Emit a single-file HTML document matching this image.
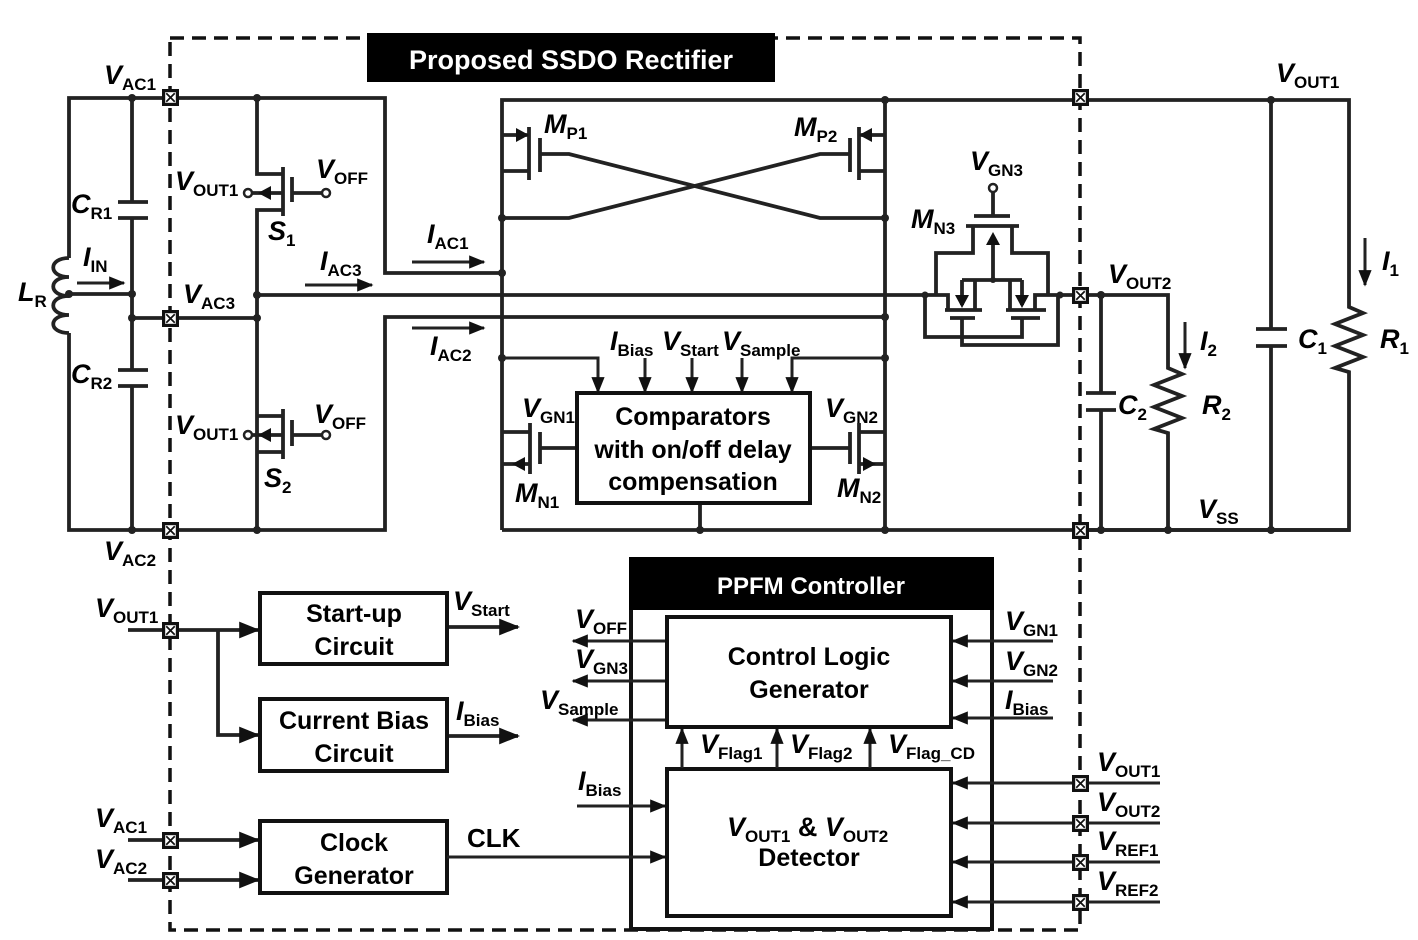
<!DOCTYPE html>
<html><head><meta charset="utf-8"><style>
html,body{margin:0;padding:0;background:#fff}
svg{display:block}
text{font-family:"Liberation Sans",Arial,sans-serif;font-weight:bold;fill:#000}
.l{font-size:27px;font-style:italic}
.s{font-size:17px;font-style:normal}
.b{font-size:25px;text-anchor:middle}
.w{stroke:#222;stroke-width:3.8;fill:none}
.t{stroke:#222;stroke-width:3;fill:none}
</style></head><body>
<svg width="1418" height="940" viewBox="0 0 1418 940" xmlns="http://www.w3.org/2000/svg">
<defs>
<marker id="a" viewBox="0 0 10 10" refX="9" refY="5" markerWidth="5.5" markerHeight="5.5" orient="auto" markerUnits="strokeWidth"><path d="M0,1 L10,5 L0,9 z" fill="#111"/></marker>
<symbol id="tm" viewBox="0 0 16 16"><rect x="0" y="0" width="16" height="16" fill="#111"/><rect x="3" y="3" width="10" height="10" fill="#fff"/><path d="M4,4 L12,12 M12,4 L4,12" stroke="#111" stroke-width="1.6"/></symbol>
</defs>

<rect x="170" y="38" width="910" height="892" fill="none" stroke="#111" stroke-width="3.5" stroke-dasharray="14,8"/>
<rect x="367" y="33" width="408" height="49" fill="#000"/>
<text x="571" y="69" font-size="27" style="fill:#fff" text-anchor="middle">Proposed SSDO Rectifier</text>

<g class="w">
<path d="M69,258 V98 H385 V273 H502"/>
<path d="M69,333 V530 H385 V317 H885"/>
<path d="M69,258 c-21,0 -21,19 0,19 c-21,0 -21,19 0,19 c-21,0 -21,19 0,19 c-21,0 -21,18 0,18"/>
<path d="M69,294 H132"/>
<path d="M132,98 V202 M118,202 H148 M118,218 H148 M132,218 V370 M118,370 H148 M118,386 H148 M132,386 V530"/>
<path d="M132,318 H257"/>
<path d="M257,98 V174 H283 M283,167 V216 M292,177 V202 M283,210 H257 V452 M257,416 H283 M283,409 V459 M292,420 V446 M283,452 H257 V530"/>
<path d="M292,193 H323 M292,435 H323"/>
<path d="M283,193 H251 M283,435 H251"/>
<path d="M257,295 H925"/>
</g>
<polygon points="258,193 271,186 271,200" fill="#111"/>
<polygon points="258,435 271,428 271,442" fill="#111"/>
<g fill="#fff" stroke="#222" stroke-width="2.5"><circle cx="248" cy="193" r="4"/><circle cx="326" cy="193" r="4"/><circle cx="248" cy="435" r="4"/><circle cx="326" cy="435" r="4"/></g>
<g fill="#222"><circle cx="132" cy="98" r="4"/><circle cx="132" cy="294" r="4"/><circle cx="132" cy="318" r="4"/><circle cx="132" cy="530" r="4"/><circle cx="257" cy="98" r="4"/><circle cx="257" cy="295" r="4"/><circle cx="257" cy="318" r="4"/><circle cx="257" cy="530" r="4"/><circle cx="69" cy="294" r="4"/></g>
<g class="t" marker-end="url(#a)"><path d="M77,283 H124"/><path d="M305,285 H372"/><path d="M412,262 H484"/><path d="M412,328 H484"/></g>

<g class="w">
<path d="M502,530 V100 H1080 M885,100 V530 M502,530 H1350"/>
<path d="M502,135 H529 M529,127 V180 M540,138 V172 M529,171 H502"/>
<path d="M885,135 H859 M859,127 V180 M850,138 V172 M859,171 H885"/>
<path d="M540,154 H569 L820,218 H885 M502,218 H569 L820,154 H850"/>
<path d="M502,432 H530 M530,423 V474 M540,432 V464 M540,448 H577 M530,464 H502"/>
<path d="M885,432 H859 M859,423 V474 M850,432 V464 M850,448 H810 M859,464 H885"/>
<path d="M700,503 V530"/>
</g>
<polygon points="529,135 516,128 516,142" fill="#111"/>
<polygon points="859,135 872,128 872,142" fill="#111"/>
<polygon points="512,464 525,457 525,471" fill="#111"/>
<polygon points="876,464 863,457 863,471" fill="#111"/>
<rect x="577" y="393" width="233" height="110" fill="#fff" stroke="#111" stroke-width="4"/>
<text class="b" x="693" y="425" font-size="24">Comparators</text>
<text class="b" x="693" y="458" font-size="24">with on/off delay</text>
<text class="b" x="693" y="490" font-size="24">compensation</text>
<g class="t" marker-end="url(#a)">
<path d="M502,358 H598 V392"/><path d="M885,358 H792 V392"/>
<path d="M645,358 V392"/><path d="M692,358 V392"/><path d="M742,358 V392"/>
</g>
<g fill="#222"><circle cx="502" cy="218" r="4"/><circle cx="885" cy="218" r="4"/><circle cx="502" cy="273" r="4"/><circle cx="502" cy="358" r="4"/><circle cx="885" cy="358" r="4"/><circle cx="885" cy="317" r="4"/><circle cx="700" cy="530" r="4"/><circle cx="885" cy="530" r="4"/><circle cx="885" cy="100" r="4"/></g>

<g class="w">
<path d="M993,191 V216 M974,216 H1010 M966,226 H1019"/>
<path d="M973,226 V253 H936 V295 M1012,226 V253 H1048 V295"/>
<path d="M993,280 V240 M962,280 H1022"/>
<path d="M962,280 V305 M975,280 V310 M1022,280 V305 M1010,280 V310"/>
<path d="M945,310 H982 M950,318 H975 M1006,310 H1046 M1011,318 H1040"/>
<path d="M925,295 H948 V310 M1060,295 H1035 V310 M925,295 V337 H1022 V318 M962,318 V345 H1058 V295 M1048,295 H1080"/>
</g>
<polygon points="993,232 986,245 1000,245" fill="#111"/>
<polygon points="962,308 955,295 969,295" fill="#111"/>
<polygon points="1022,308 1015,295 1029,295" fill="#111"/>
<circle cx="993" cy="188" r="4" fill="#fff" stroke="#222" stroke-width="2.5"/>
<g fill="#222"><circle cx="925" cy="295" r="3.5"/><circle cx="1060" cy="295" r="3.5"/><circle cx="993" cy="280" r="3"/></g>

<g class="w">
<path d="M1080,100 H1349 V307 l14,6 -28,11 28,11 -28,11 28,11 -28,11 14,4 V530 H1080"/>
<path d="M1271,100 V329 M1256,329 H1287 M1256,346 H1287 M1271,346 V530"/>
<path d="M1080,295 H1168 V368 l14,6 -28,11 28,11 -28,11 28,11 -28,11 14,4 V530"/>
<path d="M1101,295 V393 M1086,393 H1116 M1086,410 H1116 M1101,410 V530"/>
</g>
<g class="t" marker-end="url(#a)"><path d="M1365,238 V285"/><path d="M1185,322 V368"/></g>
<g fill="#222"><circle cx="1271" cy="100" r="4"/><circle cx="1101" cy="295" r="4"/><circle cx="1101" cy="530" r="4"/><circle cx="1168" cy="530" r="4"/><circle cx="1271" cy="530" r="4"/></g>

<g class="w">
<path d="M128,630 H258" marker-end="url(#a)"/>
<path d="M218,630 V735 H258" marker-end="url(#a)"/>
<path d="M128,840 H258" marker-end="url(#a)"/>
<path d="M128,880 H258" marker-end="url(#a)"/>
<path d="M447,627 H518" marker-end="url(#a)"/>
<path d="M447,736 H518" marker-end="url(#a)"/>
</g>
<g fill="#fff" stroke="#111" stroke-width="4">
<rect x="260" y="593" width="187" height="71"/><rect x="260" y="699" width="187" height="72"/><rect x="260" y="821" width="187" height="72"/>
</g>
<text class="b" x="354" y="622">Start-up</text><text class="b" x="354" y="655">Circuit</text>
<text class="b" x="354" y="729">Current Bias</text><text class="b" x="354" y="762">Circuit</text>
<text class="b" x="354" y="851">Clock</text><text class="b" x="354" y="884">Generator</text>
<text x="467" y="847" font-size="26">CLK</text>

<rect x="631" y="559" width="361" height="370" fill="#fff" stroke="#111" stroke-width="4"/>
<rect x="629" y="557" width="365" height="53" fill="#000"/>
<text x="811" y="594" font-size="24" style="fill:#fff" text-anchor="middle">PPFM Controller</text>
<rect x="667" y="617" width="284" height="110" fill="#fff" stroke="#111" stroke-width="4"/>
<rect x="667" y="769" width="284" height="147" fill="#fff" stroke="#111" stroke-width="4"/>
<text class="b" x="809" y="665">Control Logic</text><text class="b" x="809" y="698">Generator</text>
<text class="b" x="809" y="866">Detector</text>
<text class="l" x="727" y="836">V<tspan class="s" dy="6">OUT1</tspan><tspan dy="-6" style="font-style:normal"> &amp; </tspan>V<tspan class="s" dy="6">OUT2</tspan></text>
<g class="t" marker-end="url(#a)">
<path d="M447,857 H665"/>
<path d="M665,641 H573"/><path d="M665,681 H573"/><path d="M665,720 H573"/>
<path d="M1053,641 H953"/><path d="M1053,681 H953"/><path d="M1053,718 H953"/>
<path d="M682,768 V729"/><path d="M777,768 V729"/><path d="M870,768 V729"/>
<path d="M577,806 H665"/>
<path d="M1160,783 H953"/><path d="M1160,823 H953"/><path d="M1160,862 H953"/><path d="M1160,902 H953"/>
</g>

<g>
<use href="#tm" x="162" y="89" width="17" height="17"/>
<use href="#tm" x="162" y="310" width="17" height="17"/>
<use href="#tm" x="162" y="522" width="17" height="17"/>
<use href="#tm" x="1072" y="89" width="17" height="17"/>
<use href="#tm" x="1072" y="287" width="17" height="17"/>
<use href="#tm" x="1072" y="522" width="17" height="17"/>
<use href="#tm" x="162" y="622" width="17" height="17"/>
<use href="#tm" x="162" y="832" width="17" height="17"/>
<use href="#tm" x="162" y="872" width="17" height="17"/>
<use href="#tm" x="1072" y="775" width="17" height="17"/>
<use href="#tm" x="1072" y="815" width="17" height="17"/>
<use href="#tm" x="1072" y="854" width="17" height="17"/>
<use href="#tm" x="1072" y="894" width="17" height="17"/>
</g>

<g>
<text class="l" x="104" y="84">V<tspan class="s" dy="6">AC1</tspan></text>
<text class="l" x="104" y="560">V<tspan class="s" dy="6">AC2</tspan></text>
<text class="l" x="183" y="303">V<tspan class="s" dy="6">AC3</tspan></text>
<text class="l" x="71" y="213">C<tspan class="s" dy="6">R1</tspan></text>
<text class="l" x="71" y="383">C<tspan class="s" dy="6">R2</tspan></text>
<text class="l" x="18" y="301">L<tspan class="s" dy="6">R</tspan></text>
<text class="l" x="83" y="266">I<tspan class="s" dy="6">IN</tspan></text>
<text class="l" x="175" y="190">V<tspan class="s" dy="6">OUT1</tspan></text>
<text class="l" x="316" y="178">V<tspan class="s" dy="6">OFF</tspan></text>
<text class="l" x="268" y="240">S<tspan class="s" dy="6">1</tspan></text>
<text class="l" x="175" y="434">V<tspan class="s" dy="6">OUT1</tspan></text>
<text class="l" x="314" y="423">V<tspan class="s" dy="6">OFF</tspan></text>
<text class="l" x="264" y="487">S<tspan class="s" dy="6">2</tspan></text>
<text class="l" x="427" y="243">I<tspan class="s" dy="6">AC1</tspan></text>
<text class="l" x="320" y="270">I<tspan class="s" dy="6">AC3</tspan></text>
<text class="l" x="430" y="355">I<tspan class="s" dy="6">AC2</tspan></text>
<text class="l" x="544" y="133">M<tspan class="s" dy="6">P1</tspan></text>
<text class="l" x="794" y="136">M<tspan class="s" dy="6">P2</tspan></text>
<text class="l" x="970" y="170">V<tspan class="s" dy="6">GN3</tspan></text>
<text class="l" x="911" y="228">M<tspan class="s" dy="6">N3</tspan></text>
<text class="l" x="610" y="350">I<tspan class="s" dy="6">Bias</tspan></text>
<text class="l" x="662" y="350">V<tspan class="s" dy="6">Start</tspan></text>
<text class="l" x="722" y="350">V<tspan class="s" dy="6">Sample</tspan></text>
<text class="l" x="522" y="417">V<tspan class="s" dy="6">GN1</tspan></text>
<text class="l" x="825" y="417">V<tspan class="s" dy="6">GN2</tspan></text>
<text class="l" x="515" y="502">M<tspan class="s" dy="6">N1</tspan></text>
<text class="l" x="837" y="497">M<tspan class="s" dy="6">N2</tspan></text>
<text class="l" x="1276" y="82">V<tspan class="s" dy="6">OUT1</tspan></text>
<text class="l" x="1108" y="283">V<tspan class="s" dy="6">OUT2</tspan></text>
<text class="l" x="1382" y="270">I<tspan class="s" dy="6">1</tspan></text>
<text class="l" x="1200" y="350">I<tspan class="s" dy="6">2</tspan></text>
<text class="l" x="1298" y="348">C<tspan class="s" dy="6">1</tspan></text>
<text class="l" x="1380" y="348">R<tspan class="s" dy="6">1</tspan></text>
<text class="l" x="1118" y="414">C<tspan class="s" dy="6">2</tspan></text>
<text class="l" x="1202" y="414">R<tspan class="s" dy="6">2</tspan></text>
<text class="l" x="1198" y="518">V<tspan class="s" dy="6">SS</tspan></text>
<text class="l" x="95" y="617">V<tspan class="s" dy="6">OUT1</tspan></text>
<text class="l" x="95" y="827">V<tspan class="s" dy="6">AC1</tspan></text>
<text class="l" x="95" y="868">V<tspan class="s" dy="6">AC2</tspan></text>
<text class="l" x="453" y="610">V<tspan class="s" dy="6">Start</tspan></text>
<text class="l" x="456" y="720">I<tspan class="s" dy="6">Bias</tspan></text>
<text class="l" x="575" y="628">V<tspan class="s" dy="6">OFF</tspan></text>
<text class="l" x="575" y="668">V<tspan class="s" dy="6">GN3</tspan></text>
<text class="l" x="540" y="709">V<tspan class="s" dy="6">Sample</tspan></text>
<text class="l" x="578" y="790">I<tspan class="s" dy="6">Bias</tspan></text>
<text class="l" x="1005" y="630">V<tspan class="s" dy="6">GN1</tspan></text>
<text class="l" x="1005" y="670">V<tspan class="s" dy="6">GN2</tspan></text>
<text class="l" x="1005" y="709">I<tspan class="s" dy="6">Bias</tspan></text>
<text class="l" x="700" y="753">V<tspan class="s" dy="6">Flag1</tspan></text>
<text class="l" x="790" y="753">V<tspan class="s" dy="6">Flag2</tspan></text>
<text class="l" x="888" y="753">V<tspan class="s" dy="6">Flag_CD</tspan></text>
<text class="l" x="1097" y="771">V<tspan class="s" dy="6">OUT1</tspan></text>
<text class="l" x="1097" y="811">V<tspan class="s" dy="6">OUT2</tspan></text>
<text class="l" x="1097" y="850">V<tspan class="s" dy="6">REF1</tspan></text>
<text class="l" x="1097" y="890">V<tspan class="s" dy="6">REF2</tspan></text>
</g>
</svg>
</body></html>
